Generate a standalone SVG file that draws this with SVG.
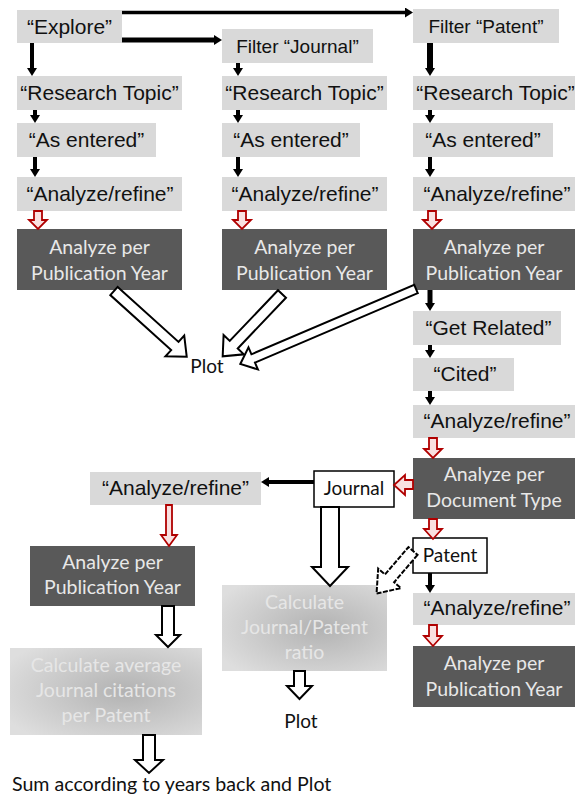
<svg xmlns="http://www.w3.org/2000/svg" width="575" height="800" viewBox="0 0 575 800">
<defs>
<style>
.lg{fill:#d9d9d9}
.dk{fill:#595959}
.wb{fill:#ffffff;stroke:#000;stroke-width:1.5}
.ta{font-family:"Liberation Sans",Arial,sans-serif;font-size:21px;fill:#111;text-anchor:middle}
.tf{font-family:"Liberation Sans",Arial,sans-serif;font-size:19px;fill:#111;text-anchor:middle}
.td{font-family:Lato,"Open Sans",sans-serif;font-size:19.5px;fill:#e8e8e8;text-anchor:middle}
.tc{font-family:Lato,"Open Sans",sans-serif;font-size:19.5px;fill:#e6e6e6;text-anchor:middle}
.tb{font-family:Lato,"Open Sans",sans-serif;font-size:19px;fill:#111}
.bl{stroke:#000;fill:none;marker-end:url(#ah)}
.ho{fill:#fff;stroke:#000;stroke-width:2;stroke-linejoin:miter}
.rd{fill:#f9e0e0;stroke:#b00000;stroke-width:1.8}
</style>
<marker id="ah" markerUnits="userSpaceOnUse" markerWidth="10" markerHeight="10" refX="2" refY="5" orient="auto">
<path d="M0,0 L8,5 L0,10 z" fill="#000"/>
</marker>
<radialGradient id="gg" cx="0.6" cy="0.5" r="0.7">
<stop offset="0" stop-color="#b2b2b2"/>
<stop offset="1" stop-color="#dedede"/>
</radialGradient>
</defs>

<g id="n-explore"><rect class="lg" x="17" y="10" width="105" height="33"/><text class="ta" x="69.5" y="34">“Explore”</text></g>
<g id="n-filter-journal"><rect class="lg" x="222" y="29" width="151" height="34"/><text class="tf" x="297.5" y="53">Filter “Journal”</text></g>
<g id="n-filter-patent"><rect class="lg" x="413" y="9" width="146" height="34"/><text class="tf" x="486" y="33">Filter “Patent”</text></g>

<g id="n-rt1"><rect class="lg" x="17" y="76" width="165" height="34"/><text class="ta" x="99.5" y="100">“Research Topic”</text></g>
<g id="n-rt2"><rect class="lg" x="222" y="76" width="165" height="34"/><text class="ta" x="304.5" y="100">“Research Topic”</text></g>
<g id="n-rt3"><rect class="lg" x="413" y="76" width="165" height="34"/><text class="ta" x="495.5" y="100">“Research Topic”</text></g>

<g id="n-ae1"><rect class="lg" x="17" y="123" width="139" height="34"/><text class="ta" x="86.5" y="147">“As entered”</text></g>
<g id="n-ae2"><rect class="lg" x="222" y="123" width="138" height="34"/><text class="ta" x="291" y="147">“As entered”</text></g>
<g id="n-ae3"><rect class="lg" x="413" y="123" width="140" height="34"/><text class="ta" x="483" y="147">“As entered”</text></g>

<g id="n-ar1"><rect class="lg" x="17" y="177" width="165" height="34"/><text class="ta" x="100" y="201">“Analyze/refine”</text></g>
<g id="n-ar2"><rect class="lg" x="222" y="177" width="165" height="34"/><text class="ta" x="305" y="201">“Analyze/refine”</text></g>
<g id="n-ar3"><rect class="lg" x="413" y="177" width="165" height="34"/><text class="ta" x="497" y="201">“Analyze/refine”</text></g>

<g id="n-apy1"><rect class="dk" x="17" y="229" width="165" height="61"/><text class="td" x="99.5" y="254">Analyze per</text><text class="td" x="99.5" y="280">Publication Year</text></g>
<g id="n-apy2"><rect class="dk" x="222" y="229" width="165" height="61"/><text class="td" x="304.5" y="254">Analyze per</text><text class="td" x="304.5" y="280">Publication Year</text></g>
<g id="n-apy3"><rect class="dk" x="413" y="229" width="162" height="61"/><text class="td" x="494" y="254">Analyze per</text><text class="td" x="494" y="280">Publication Year</text></g>

<g id="n-plot1"><text class="tb" x="207" y="373" text-anchor="middle">Plot</text></g>

<g id="n-get-related"><rect class="lg" x="413" y="311" width="148" height="34"/><text class="ta" x="488.5" y="335">“Get Related”</text></g>
<g id="n-cited"><rect class="lg" x="413" y="358" width="101" height="33"/><text class="ta" x="465" y="381">“Cited”</text></g>
<g id="n-ar4"><rect class="lg" x="413" y="405" width="165" height="33"/><text class="ta" x="497" y="428">“Analyze/refine”</text></g>
<g id="n-adt"><rect class="dk" x="413" y="458" width="162" height="61"/><text class="td" x="494" y="481">Analyze per</text><text class="td" x="494" y="507">Document Type</text></g>
<g id="n-journal"><rect class="wb" x="314" y="471" width="80" height="36"/><text class="tb" x="354" y="495" text-anchor="middle">Journal</text></g>
<g id="n-patent"><rect class="wb" x="413" y="538" width="74" height="35"/><text class="tb" x="450" y="562" text-anchor="middle">Patent</text></g>
<g id="n-ar5"><rect class="lg" x="90" y="472" width="171" height="33"/><text class="ta" x="175.5" y="495">“Analyze/refine”</text></g>
<g id="n-apy4"><rect class="dk" x="30" y="546" width="165" height="60"/><text class="td" x="112.5" y="569">Analyze per</text><text class="td" x="112.5" y="594">Publication Year</text></g>
<g id="n-ar6"><rect class="lg" x="413" y="593" width="165" height="32"/><text class="ta" x="497" y="615">“Analyze/refine”</text></g>
<g id="n-apy5"><rect class="dk" x="413" y="646" width="162" height="61"/><text class="td" x="494" y="670">Analyze per</text><text class="td" x="494" y="696">Publication Year</text></g>
<g id="n-ratio"><rect fill="url(#gg)" x="222" y="585" width="165" height="86"/><text class="tc" x="304.5" y="609">Calculate</text><text class="tc" x="304.5" y="634">Journal/Patent</text><text class="tc" x="304.5" y="659">ratio</text></g>
<g id="n-avg"><rect fill="url(#gg)" x="10" y="648" width="192" height="87"/><text class="tc" x="106" y="672">Calculate average</text><text class="tc" x="106" y="697">Journal citations</text><text class="tc" x="106" y="722">per Patent</text></g>
<g id="n-plot2"><text class="tb" x="301" y="728" text-anchor="middle">Plot</text></g>
<g id="n-sum"><text class="tb" x="12" y="791" style="font-size:19.6px">Sum according to years back and Plot</text></g>

<g id="connectors">
<path class="bl" stroke-width="3.5" d="M122,12.5 H407"/>
<path class="bl" stroke-width="5" d="M122,40 H216"/>
<path class="bl" stroke-width="4" d="M32,43 V70"/>
<path class="bl" stroke-width="4" d="M35,110 V117"/>
<path class="bl" stroke-width="4" d="M35,157 V171"/>
<path class="bl" stroke-width="4" d="M238,63 V70"/>
<path class="bl" stroke-width="4" d="M238,110 V117"/>
<path class="bl" stroke-width="4" d="M238,157 V171"/>
<path class="bl" stroke-width="6" d="M430,43 V70"/>
<path class="bl" stroke-width="4" d="M430,110 V117"/>
<path class="bl" stroke-width="4" d="M430,157 V171"/>
<path class="bl" stroke-width="5" d="M430,290 V305"/>
<path class="bl" stroke-width="4" d="M430,345 V352"/>
<path class="bl" stroke-width="4" d="M430,391 V399"/>
<path class="bl" stroke-width="4" d="M314,482 H267"/>
<path class="bl" stroke-width="4" d="M430,573 V587"/>

<polygon class="rd" points="34,211 42,211 42,220 47,220 38,229 29,220 34,220"/>
<polygon class="rd" points="238,211 246,211 246,220 251,220 242,229 233,220 238,220"/>
<polygon class="rd" points="428,211 436,211 436,220 441,220 432,229 423,220 428,220"/>
<polygon class="rd" points="429,438 437,438 437,449 442,449 433,458 424,449 429,449"/>
<polygon class="rd" points="429,519 437,519 437,529 442,529 433,539 424,529 429,529"/>
<polygon class="rd" points="429,625 437,625 437,636 442,636 433,646 424,636 429,636"/>
<polygon class="rd" points="166,505 172,505 172,535 177,535 169,546 161,535 166,535"/>
<polygon class="rd" points="413,480 405,480 405,475 394,485 405,495 405,489 413,489"/>

<polygon class="ho" transform="translate(114,291) rotate(42.1)" points="0,-5.5 82,-5.5 82,-14 98,0 82,14 82,5.5 0,5.5"/>
<polygon class="ho" transform="translate(282,294) rotate(133.6)" points="0,-5.5 70,-5.5 70,-14 86,0 70,14 70,5.5 0,5.5"/>
<polygon class="ho" transform="translate(416,289) rotate(156.9)" points="0,-4.5 177,-4.5 177,-12 191,0 177,12 177,4.5 0,4.5"/>
<polygon class="ho" points="321,507 339,507 339,567 348,567 330,586 312,567 321,567"/>
<polygon class="ho" stroke-dasharray="5 1.5" transform="translate(413,551) rotate(130.6)" points="0,-6 36,-6 36,-15 56,0 36,15 36,6 0,6"/>
<polygon class="ho" points="162,606 174,606 174,635 180,635 168,647 156,635 162,635"/>
<polygon class="ho" points="294,671 305,671 305,686 312,686 299.5,699 287,686 294,686"/>
<polygon class="ho" points="143,735 155,735 155,760 163,760 149,773 135,760 143,760"/>
</g>
</svg>
